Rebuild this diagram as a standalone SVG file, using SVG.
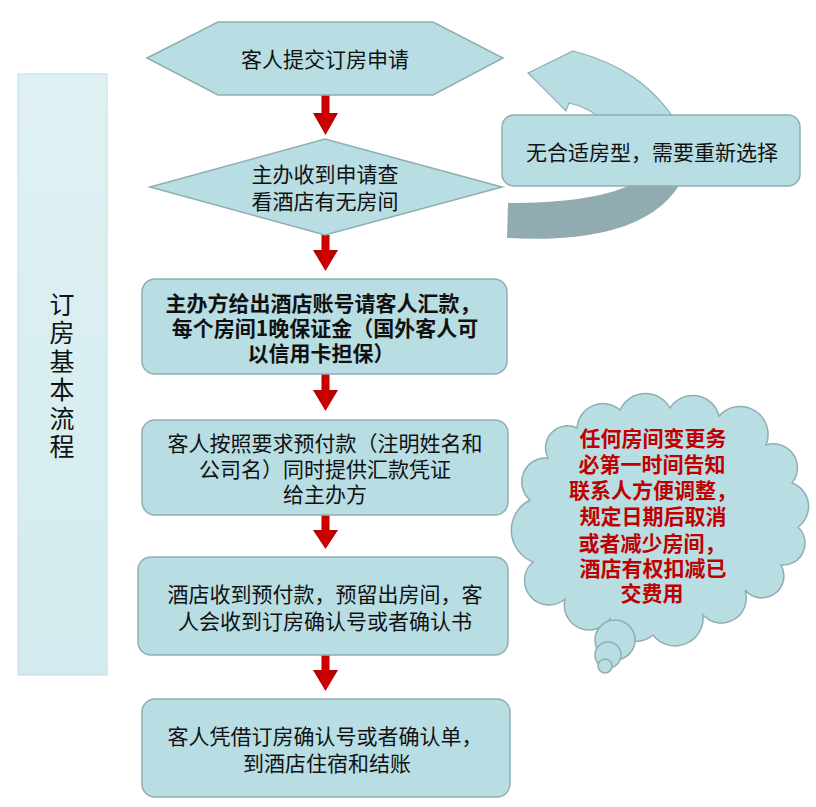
<svg xmlns="http://www.w3.org/2000/svg" width="816" height="807" viewBox="0 0 816 807">
  <defs>
    <linearGradient id="barGrad" x1="0" y1="0" x2="0" y2="1">
      <stop offset="0" stop-color="#DFF1F3"/>
      <stop offset="1" stop-color="#D3EBEE"/>
    </linearGradient>
    <linearGradient id="redGrad" x1="0" y1="0" x2="1" y2="0">
      <stop offset="0" stop-color="#A00000"/>
      <stop offset="0.5" stop-color="#D40000"/>
      <stop offset="1" stop-color="#A00000"/>
    </linearGradient>
  </defs>
  <style>
    .node { fill: #B8DEE3; stroke: #8FAEB2; stroke-width: 1.5; }
    .txt { font-family: "Noto Sans CJK SC", "Liberation Sans", sans-serif; font-size: 21px; fill: #111111; text-anchor: middle; dominant-baseline: central; }
    .vt { font-family: "Noto Sans CJK SC", "Liberation Sans", sans-serif; font-size: 25px; fill: #111111; text-anchor: middle; writing-mode: vertical-rl; letter-spacing: 3.5px; }
    .bold { font-weight: bold; }
    .red { fill: #C00000; font-weight: bold; }
    .arrow { fill: url(#redGrad); }
  </style>
  <rect width="816" height="807" fill="#FFFFFF"/>

  <g id="title-bar">
    <rect x="18" y="74" width="89" height="601" fill="url(#barGrad)" stroke="#C2DDE0" stroke-width="1"/>
    <text class="vt" x="62" y="377">订房基本流程</text>
  </g>

  <g id="return-arrow">
    <path d="M528,73 L573,51 C615,62 655,82 684,135 L684,140 L616,140 C605,118 590,108 569,103 L566,111 Z" fill="#B8DEE3" stroke="#8FAEB2" stroke-width="1.2"/>
    <path d="M508,203 C560,203 610,198 640,180 L682,180 C655,232 580,242 507,238 Z" fill="#91ACB0"/>
  </g>

  <g id="connectors">
    <path class="arrow" d="M321.5,95 L329.5,95 L329.5,113 L338,113 L325.5,135 L313,113 L321.5,113 Z"/>
    <path class="arrow" d="M321.5,235 L329.5,235 L329.5,250 L338,250 L325.5,271 L313,250 L321.5,250 Z"/>
    <path class="arrow" d="M321.5,374 L329.5,374 L329.5,390 L338,390 L325.5,411 L313,390 L321.5,390 Z"/>
    <path class="arrow" d="M321.5,515 L329.5,515 L329.5,530 L338,530 L325.5,549 L313,530 L321.5,530 Z"/>
    <path class="arrow" d="M321.5,655 L329.5,655 L329.5,670 L338,670 L325.5,691 L313,670 L321.5,670 Z"/>
  </g>

  <g id="n1">
    <polygon class="node" points="147,58 218,22 433,22 503,58 433,95 218,95"/>
    <text class="txt" x="325" y="58">客人提交订房申请</text>
  </g>

  <g id="n2">
    <polygon class="node" points="150,187 325,139 502,187 325,235"/>
    <text class="txt"><tspan x="325" y="173">主办收到申请查</tspan><tspan x="325" y="200">看酒店有无房间</tspan></text>
  </g>

  <g id="n-reselect">
    <rect class="node" x="502" y="115" width="298" height="71" rx="12"/>
    <text class="txt" x="652" y="151">无合适房型，需要重新选择</text>
  </g>

  <g id="n3">
    <rect class="node" x="142" y="279" width="365" height="95" rx="13"/>
    <text class="txt bold"><tspan x="323" y="302">主办方给出酒店账号请客人汇款，</tspan><tspan x="325" y="327">每个房间1晚保证金（国外客人可</tspan><tspan x="321" y="352">以信用卡担保）</tspan></text>
  </g>

  <g id="n4">
    <rect class="node" x="142" y="420" width="366" height="95" rx="13"/>
    <text class="txt"><tspan x="325" y="442">客人按照要求预付款（注明姓名和</tspan><tspan x="325" y="468">公司名）同时提供汇款凭证</tspan><tspan x="325" y="493">给主办方</tspan></text>
  </g>

  <g id="n5">
    <rect class="node" x="138" y="557" width="370" height="98" rx="13"/>
    <text class="txt"><tspan x="325" y="593">酒店收到预付款，预留出房间，客</tspan><tspan x="325" y="620">人会收到订房确认号或者确认书</tspan></text>
  </g>

  <g id="n6">
    <rect class="node" x="142" y="699" width="368" height="98" rx="13"/>
    <text class="txt"><tspan x="325" y="735">客人凭借订房确认号或者确认单，</tspan><tspan x="327" y="762">到酒店住宿和结账</tspan></text>
  </g>

  <g id="note-cloud">
    <path class="node" d="M530,500 A24,24 0 0 1 548,458 A22,22 0 0 1 577,428 A26,26 0 0 1 620,410 A28,28 0 0 1 670,408 A27,27 0 0 1 719,416 A28,28 0 0 1 766,445 A24,24 0 0 1 792,483 A25,25 0 0 1 798,527 A22,22 0 0 1 781,565 A22,22 0 0 1 745,590 A25,25 0 0 1 703,615 A28,28 0 0 1 653,635 A26,26 0 0 1 610,619 A25,25 0 0 1 565,599 A24,24 0 0 1 533,562 A34,34 0 0 1 530,500 Z"/>
    <circle class="node" cx="615" cy="640" r="20"/>
    <circle class="node" cx="608" cy="655" r="13"/>
    <circle class="node" cx="605" cy="666" r="7"/>
    <text class="txt red"><tspan x="653" y="437">任何房间变更务</tspan><tspan x="652" y="463">必第一时间告知</tspan><tspan x="653" y="489">联系人方便调整，</tspan><tspan x="653" y="515">规定日期后取消</tspan><tspan x="652" y="542">或者减少房间，</tspan><tspan x="653" y="567">酒店有权扣减已</tspan><tspan x="652" y="592">交费用</tspan></text>
  </g>
</svg>
